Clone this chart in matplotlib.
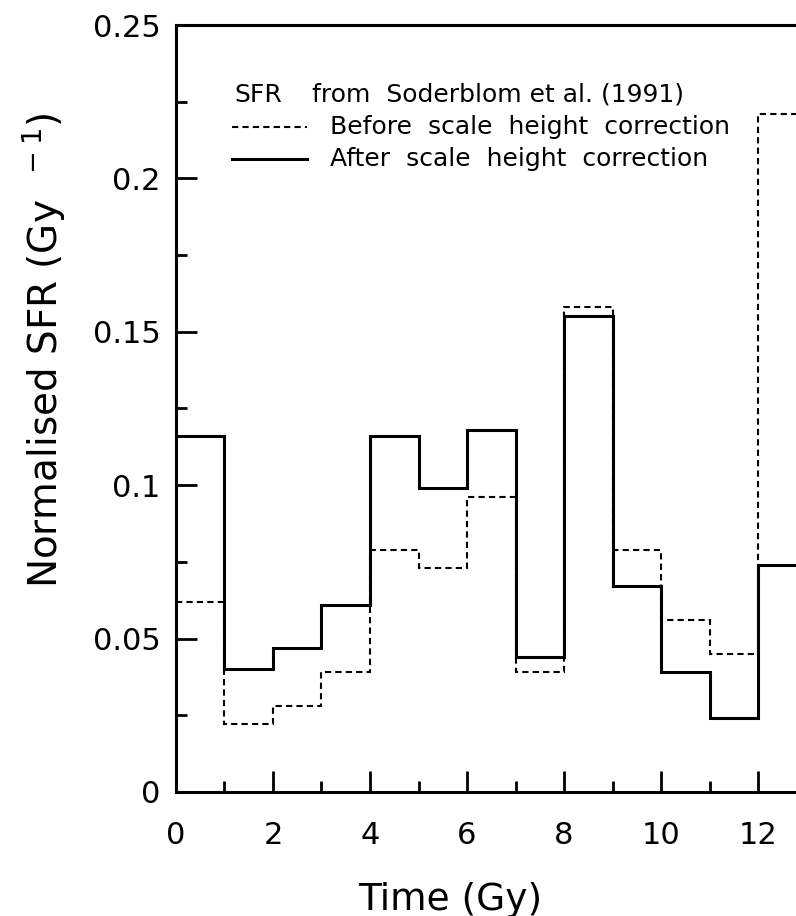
import matplotlib.pyplot as plt
import numpy as np

plt.rcParams['font.family'] = ['DejaVu Sans']

# bin edges (Gy) and normalised SFR values
edges = np.arange(0, 14)
sfr_before = [0.062, 0.022, 0.028, 0.039, 0.079, 0.073, 0.096, 0.039, 0.158, 0.079, 0.056, 0.045, 0.221]
sfr_after = [0.116, 0.040, 0.047, 0.061, 0.116, 0.099, 0.118, 0.044, 0.155, 0.067, 0.039, 0.024, 0.074]

fig = plt.figure(figsize=(7.96, 9.16), dpi=100)
ax = fig.add_axes([0.221, 0.1354, 0.779, 0.8373])

ax.stairs(sfr_before, edges, baseline=None, color='black', lw=1.5, linestyle=(0, (3, 2)))
ax.stairs(sfr_after, edges, baseline=None, color='black', lw=2.2)

ax.set_xlim(0, 12.78)
ax.set_ylim(0, 0.25)
ax.set_xticks(np.arange(0, 13, 2))
ax.set_xticks(np.arange(1, 13, 2), minor=True)
ax.set_xticklabels(['0', '2', '4', '6', '8', '10', '12'])
ax.set_yticks([0, 0.05, 0.1, 0.15, 0.2, 0.25])
ax.set_yticks(np.arange(0.025, 0.25, 0.05), minor=True)
ax.set_yticklabels(['0', '0.05', '0.1', '0.15', '0.2', '0.25'])
ax.tick_params(which='major', direction='in', length=15, width=2, labelsize=22)
ax.tick_params(which='minor', direction='in', length=8, width=2)
ax.tick_params(axis='x', which='major', pad=21)
ax.tick_params(axis='y', which='major', pad=11)
ax.spines['right'].set_visible(False)
for s in ['left', 'bottom', 'top']:
    ax.spines[s].set_linewidth(2.2)

ax.set_xlabel('Time (Gy)', fontsize=27)
ax.xaxis.set_label_coords(0.442, -0.117)
ax.set_ylabel('Normalised SFR (Gy $^{\\ -1}$)', fontsize=28)
ax.yaxis.set_label_coords(-0.175, 0.576)

# legend block
fs = 18
ax.text(0.095, 0.909, 'SFR', transform=ax.transAxes, fontsize=fs, va='center')
ax.text(0.219, 0.909, 'from  Soderblom et al. (1991)', transform=ax.transAxes, fontsize=fs, va='center')
ax.plot([0.090, 0.211], [0.867, 0.867], transform=ax.transAxes, color='black', lw=1.5, linestyle=(0, (3, 2)))
ax.text(0.248, 0.867, 'Before  scale  height  correction', transform=ax.transAxes, fontsize=fs, va='center')
ax.plot([0.090, 0.211], [0.825, 0.825], transform=ax.transAxes, color='black', lw=2.2)
ax.text(0.248, 0.825, 'After  scale  height  correction', transform=ax.transAxes, fontsize=fs, va='center')

fig.savefig('out.png', dpi=100)
